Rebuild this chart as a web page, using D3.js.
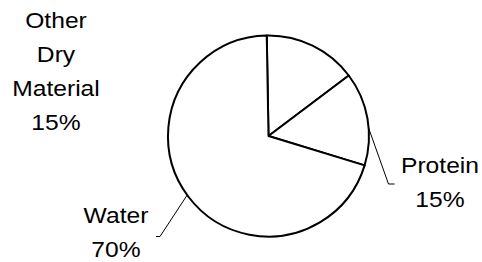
<!DOCTYPE html>
<html>
<head>
<meta charset="utf-8">
<script src="https://cdn.jsdelivr.net/npm/d3@7"></script>
<style>
    body { margin: 0; background: #fff; }
    svg { display: block; }
</style>
</head>
<body>
<div id="grafico"></div>
<script>
var categories = ["Other Dry Material", "Protein", "Water"];
var values = [15, 15, 70];
var labelWords = [["Other", "Dry", "Material"], ["Protein"], ["Water"]];

var w = 482, h = 262;
var cx = 268.5, cy = 136, r = 100.5;

// where each label sits (first baseline) and its leader elbow
var labelPos = {
    "Other Dry Material": { x: 56, y: 28, leader: null },
    "Protein": { x: 440, y: 173, leader: { shift: 5.6, ex: 388.5, ey: 184, tail: 6 } },
    "Water": { x: 116, y: 223.5, leader: { shift: 1, ex: 160, ey: 236.5, tail: -4 } }
};

var data = categories.map(function(c, i) {
    return { label: c, value: values[i], words: labelWords[i] };
});

var svg = d3.select("#grafico").append("svg")
    .attr("width", w)
    .attr("height", h);

var g = svg.append("g").attr("transform", "translate(" + cx + "," + cy + ")");

var pie = d3.pie()
    .sort(null)
    .startAngle(-Math.PI / 180)
    .endAngle(2 * Math.PI - Math.PI / 180)
    .value(function(d) { return d.value; });

var path = d3.arc()
    .outerRadius(r)
    .innerRadius(0);

var total = d3.sum(data, function(d) { return d.value; });
var fmt = d3.format(".0%");

var arcs = pie(data);

g.selectAll(".arc")
    .data(arcs)
    .enter().append("path")
    .attr("class", "arc")
    .attr("d", path)
    .attr("fill", "#fff")
    .attr("stroke", "#000")
    .attr("stroke-width", 2)
    .attr("stroke-linejoin", "round");

// leader lines
arcs.forEach(function(d) {
    var pos = labelPos[d.data.label];
    if (!pos.leader) return;
    var a = (d.startAngle + d.endAngle) / 2 + pos.leader.shift * Math.PI / 180;
    var sx = cx + Math.sin(a) * r, sy = cy - Math.cos(a) * r;
    var pts = [[sx, sy], [pos.leader.ex, pos.leader.ey], [pos.leader.ex + pos.leader.tail, pos.leader.ey]];
    svg.append("path")
        .attr("d", d3.line()(pts))
        .attr("fill", "none")
        .attr("stroke", "#000")
        .attr("stroke-width", 1);
});

// labels
arcs.forEach(function(d) {
    var pos = labelPos[d.data.label];
    var lines = d.data.words.concat([fmt(d.data.value / total)]);
    var lg = svg.append("g")
        .attr("transform", "translate(" + pos.x + ",0) scale(1.12,1)");
    lg.selectAll("text")
        .data(lines)
        .enter().append("text")
        .attr("x", 0)
        .attr("y", function(t, i) { return pos.y + i * 34; })
        .attr("text-anchor", "middle")
        .style("font", "22px 'Liberation Sans', Arial, sans-serif")
        .style("fill", "#000")
        .text(function(t) { return t; });
});
</script>
</body>
</html>
